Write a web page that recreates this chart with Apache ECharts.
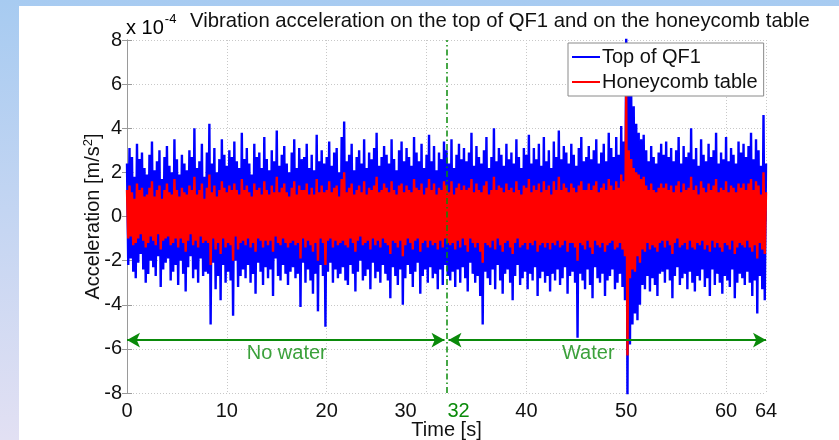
<!DOCTYPE html>
<html><head><meta charset="utf-8">
<script src="https://cdn.jsdelivr.net/npm/echarts@6/dist/echarts.min.js"></script>
<style>html,body{margin:0;padding:0;background:#fff}#c{width:839px;height:440px}</style>
</head><body><div id="c"></div>
<script>
// sample step in seconds
const dt = 0.125;
// Top of QF1 acceleration, in tenths of 1e-4 m/s^2, one value per 0.125 s
const topQF1 = [
24,-22,31,-19,27,-25,18,-28,33,-21,26,-17,29,-24,22,-30,
19,-26,28,-20,34,-23,21,-27,25,-18,30,-32,17,-24,27,-21,
32,-19,23,-29,20,-25,35,-22,26,-31,19,-20,28,-26,24,-34,
21,-23,30,-18,27,-28,40,-24,22,-30,25,-19,33,-27,18,-25,
29,-26,42,-49,24,-21,31,-33,20,-27,26,-38,35,-22,28,-30,
23,-25,30,-29,27,-45,34,-20,25,-32,22,-27,38,-24,26,-28,
31,-22,24,-30,19,-26,33,-35,27,-21,29,-25,22,-31,36,-23,
26,-28,21,-24,30,-36,25,-19,39,-27,23,-29,28,-22,32,-26,
24,-31,20,-25,29,-23,35,-28,22,-26,31,-41,26,-21,27,-30,
33,-24,22,-29,28,-35,21,-26,37,-43,25,-22,30,-27,24,-50,
27,-25,34,-21,23,-30,29,-24,31,-28,20,-26,36,-23,43,-29,
25,-31,28,-22,33,-26,21,-34,27,-25,30,-20,24,-29,35,-27,
22,-24,29,-33,26,-21,31,-28,38,-25,23,-30,27,-22,32,-26,
28,-29,24,-37,35,-23,26,-27,21,-31,30,-24,34,-40,25,-28,
31,-22,27,-26,23,-32,36,-25,29,-21,25,-35,33,-27,22,-24,
28,-30,37,-23,25,-28,32,-26,21,-33,29,-24,26,-31,34,-22,
30,-27,24,-29,35,-25,22,-32,28,-24,33,-30,26,-23,31,-28,
25,-34,29,-21,38,-26,23,-30,32,-27,27,-36,24,-49,30,-25,
36,-28,22,-31,27,-24,40,-33,25,-22,31,-29,28,-35,23,-26,
33,-24,26,-30,29,-38,24,-27,35,-22,27,-31,22,-28,31,-25,
28,-33,37,-26,24,-29,31,-23,26,-36,33,-28,23,-25,36,-30,
25,-27,30,-34,22,-26,34,-29,27,-24,39,-31,26,-28,32,-23,
29,-35,24,-27,33,-25,28,-30,23,-55,31,-26,36,-29,25,-33,
27,-24,32,-31,26,-37,30,-23,35,-28,24,-30,29,-26,33,-36,
25,-29,38,-27,31,-24,27,-33,36,-30,28,-26,41,-32,34,-38,
85,-82,62,-58,55,-49,50,-44,42,-47,38,-40,35,-31,37,-33,
30,-27,25,-34,32,-28,27,-31,24,-36,29,-26,33,-25,28,-30,
34,-24,27,-29,31,-37,25,-27,30,-23,36,-31,24,-28,32,-26,
27,-33,29,-25,40,-30,26,-34,31,-27,23,-29,35,-24,28,-32,
25,-28,33,-36,27,-24,30,-31,38,-26,24,-30,29,-35,26,-27,
36,-29,25,-32,31,-24,28,-37,24,-30,34,-26,29,-28,33,-31,
27,-25,32,-30,38,-36,26,-29,35,-44,30,-27,23,-33,46,-38,
24];
// Honeycomb table acceleration, in tenths of 1e-4 m/s^2
const honeycomb = [
12,-10,14,-9,11,-13,8,-12,15,-10,12,-8,13,-11,9,-14,
10,-12,13,-9,16,-11,9,-13,12,-8,14,-15,8,-11,12,-10,
15,-9,11,-13,10,-12,17,-10,12,-14,9,-10,13,-12,11,-16,
10,-11,14,-8,12,-13,18,-11,10,-14,12,-9,15,-12,8,-11,
13,-12,19,-22,11,-10,14,-15,9,-12,12,-17,16,-10,13,-14,
11,-12,14,-13,12,-20,15,-9,12,-15,10,-12,17,-11,12,-13,
14,-10,11,-14,9,-12,15,-16,12,-10,13,-11,10,-14,16,-11,
12,-13,10,-11,14,-16,11,-9,18,-12,11,-13,13,-10,15,-12,
11,-14,9,-12,13,-11,16,-13,10,-12,14,-19,12,-10,12,-14,
15,-11,10,-13,13,-16,10,-12,17,-20,11,-10,14,-12,11,-22,
12,-11,16,-10,11,-14,13,-11,14,-13,9,-12,17,-11,20,-13,
11,-14,13,-10,15,-12,10,-16,12,-11,14,-9,11,-13,16,-12,
10,-11,13,-15,12,-10,14,-13,18,-11,11,-14,12,-10,15,-12,
13,-13,11,-17,16,-11,12,-12,10,-14,14,-11,15,-18,11,-13,
14,-10,12,-12,11,-15,17,-11,13,-10,12,-16,15,-12,10,-11,
13,-14,17,-11,12,-13,15,-12,10,-15,13,-11,12,-14,16,-10,
14,-12,11,-13,16,-12,10,-15,13,-11,15,-14,12,-10,14,-13,
12,-16,13,-10,17,-12,11,-14,15,-12,12,-16,11,-21,14,-12,
16,-13,10,-14,12,-11,18,-15,12,-10,14,-13,13,-16,11,-12,
15,-11,12,-14,13,-17,11,-12,16,-10,12,-14,10,-13,14,-12,
13,-15,17,-12,11,-13,14,-11,12,-16,15,-13,11,-12,16,-14,
12,-12,14,-15,10,-12,16,-13,12,-11,18,-14,12,-13,15,-11,
13,-16,11,-12,15,-12,13,-14,11,-20,14,-12,16,-13,12,-15,
12,-11,15,-14,12,-17,14,-11,16,-13,11,-14,13,-12,15,-16,
12,-13,17,-12,14,-11,12,-15,16,-14,13,-12,19,-15,16,-18,
55,-63,30,-28,26,-24,22,-25,20,-18,19,-21,17,-15,18,-16,
14,-12,12,-15,15,-13,12,-14,11,-16,13,-12,15,-11,13,-14,
15,-11,12,-13,14,-17,11,-12,14,-10,16,-14,11,-13,15,-12,
12,-15,13,-11,18,-14,12,-15,14,-12,10,-13,16,-11,13,-15,
11,-13,15,-16,12,-11,14,-14,17,-12,11,-14,13,-16,12,-12,
16,-13,11,-15,14,-11,13,-17,11,-14,15,-12,13,-13,15,-14,
12,-11,15,-14,17,-16,12,-13,16,-19,14,-12,10,-15,20,-17,
11];
const xLabels = [0, 10, 20, 30, 32, 40, 50, 60, 64];
const boundaryTime = 32;
const arrowLevel = -5.6;
const noWaterSpan = [0, 31.8];
const waterSpan = [32.2, 64];
const annotations = [["No water", 16, -6.2], ["Water", 46.2, -6.2]];

const toPts = arr => arr.map((v, i) => [i * dt, v / 10]);
const FONT = "'Liberation Sans', Arial, sans-serif";
const FS = 20;
const GREEN = '#0a8a0a';
const AX = '#9a9a9a';

const chart = echarts.init(document.getElementById('c'), null, {renderer: 'canvas'});
const axBase = {
  axisLine: {show: true, lineStyle: {color: AX, width: 1}},
  axisTick: {show: true, inside: true, length: 5, lineStyle: {color: AX}},
};
chart.setOption({
  animation: false,
  textStyle: {fontFamily: FONT},
  graphic: [
    {type: 'rect', z: -10, silent: true, shape: {x: 0, y: 0, width: 839, height: 440},
     style: {fill: new echarts.graphic.LinearGradient(0, 0, 0, 1, [{offset: 0, color: '#a7cbf1'}, {offset: 1, color: '#e2e0f3'}])}},
    {type: 'rect', z: -9, silent: true, shape: {x: 19, y: 6, width: 820, height: 434}, style: {fill: '#ffffff'}},
    {type: 'text', left: 190, top: 11, style: {text: 'Vibration acceleration on the top of QF1 and on the honeycomb table', font: '20.3px ' + FONT, fill: '#111'}},
    {type: 'text', left: 126, top: 13, style: {text: '{a|x 10}{s|-4}', rich: {a: {fontSize: FS, fontFamily: FONT, color: '#111', padding: [8, 0, 0, 0]}, s: {fontSize: 13, fontFamily: FONT, color: '#111', padding: [0, 0, 10, 1]}}}}
  ],
  grid: {left: 127, right: 73, top: 40, bottom: 47, outerBoundsMode: 'none', containLabel: false},
  legend: {
    data: ['Top of QF1', 'Honeycomb table'],
    orient: 'vertical', left: 568, top: 43,
    icon: 'rect', itemWidth: 28, itemHeight: 2, itemGap: 5,
    padding: [4, 6, 4, 4],
    backgroundColor: '#fff', borderColor: '#8a8a8a', borderWidth: 1,
    textStyle: {fontSize: FS, color: '#111', fontFamily: FONT, padding: [0, 0, 0, -3]}
  },
  xAxis: [
    Object.assign({}, axBase, {
      type: 'value', min: 0, max: 64, interval: 10, position: 'bottom',
      name: 'Time [s]', nameLocation: 'middle', nameGap: 27, nameMoveOverlap: false,
      nameTextStyle: {fontSize: FS, color: '#111', fontFamily: FONT},
      splitLine: {show: true, lineStyle: {color: '#c8c8c8', type: [1, 2]}},
      axisLabel: {
        customValues: xLabels, fontSize: FS, color: '#111', margin: 8, fontFamily: FONT,
        formatter: v => v === 30 ? '{l|30}' : (v === 32 ? '{g|32}' : String(v)),
        rich: {
          l: {fontSize: FS, color: '#111', fontFamily: FONT, padding: [0, 42, 0, 0]},
          g: {fontSize: FS, color: GREEN, fontFamily: FONT, padding: [0, 0, 0, 24]}
        }
      }
    }),
    Object.assign({}, axBase, {
      type: 'value', min: 0, max: 64, interval: 10, position: 'top',
      axisLabel: {show: false}, splitLine: {show: false}
    })
  ],
  yAxis: [
    Object.assign({}, axBase, {
      type: 'value', min: -8, max: 8, interval: 2, position: 'left',
      name: '{a|Acceleration [m/s}{s|2}{a|]}', nameLocation: 'middle', nameGap: 22, nameRotate: 90, nameMoveOverlap: false,
      nameTextStyle: {rich: {a: {fontSize: FS, color: '#111', fontFamily: FONT}, s: {fontSize: 13, color: '#111', fontFamily: FONT, padding: [0, 0, 10, 0]}}},
      splitLine: {show: true, lineStyle: {color: '#c8c8c8', type: [1, 2]}},
      axisLabel: {fontSize: FS, color: '#111', margin: 5, fontFamily: FONT}
    }),
    Object.assign({}, axBase, {
      type: 'value', min: -8, max: 8, interval: 2, position: 'right',
      axisLabel: {show: false}, splitLine: {show: false}
    })
  ],
  series: [
    {name: 'Top of QF1', type: 'line', data: toPts(topQF1), symbol: 'none', showSymbol: false,
     lineStyle: {color: '#0000ff', width: 2.4, join: 'miter', miterLimit: 3}, itemStyle: {color: '#0000ff'}, z: 2, clip: true},
    {name: 'Honeycomb table', type: 'line', data: toPts(honeycomb), symbol: 'none', showSymbol: false,
     lineStyle: {color: '#ff0000', width: 2.4, join: 'miter', miterLimit: 3}, itemStyle: {color: '#ff0000'}, z: 3, clip: true},
    {name: 'boundary', type: 'line', data: [], z: 4,
     markLine: {silent: true, symbol: 'none', label: {show: false},
       lineStyle: {color: GREEN, width: 1.5, type: [6, 3, 1.5, 3]},
       data: [{xAxis: boundaryTime}]}},
    {name: 'spans', type: 'line', data: [], z: 4,
     markLine: {silent: true, symbol: ['arrow', 'arrow'], symbolSize: [11, 13], label: {show: false},
       lineStyle: {color: GREEN, width: 2, type: 'solid'},
       data: [
         [{coord: [noWaterSpan[0], arrowLevel]}, {coord: [noWaterSpan[1], arrowLevel]}],
         [{coord: [waterSpan[0], arrowLevel]}, {coord: [waterSpan[1], arrowLevel]}]
       ]}},
    {name: 'notes', type: 'scatter', z: 5, symbolSize: 0, silent: true,
     data: annotations.map(a => ({name: a[0], value: [a[1], a[2]]})),
     label: {show: true, position: 'inside', formatter: p => p.name, fontSize: FS, color: GREEN, fontFamily: FONT}}
  ]
});
</script></body></html>
